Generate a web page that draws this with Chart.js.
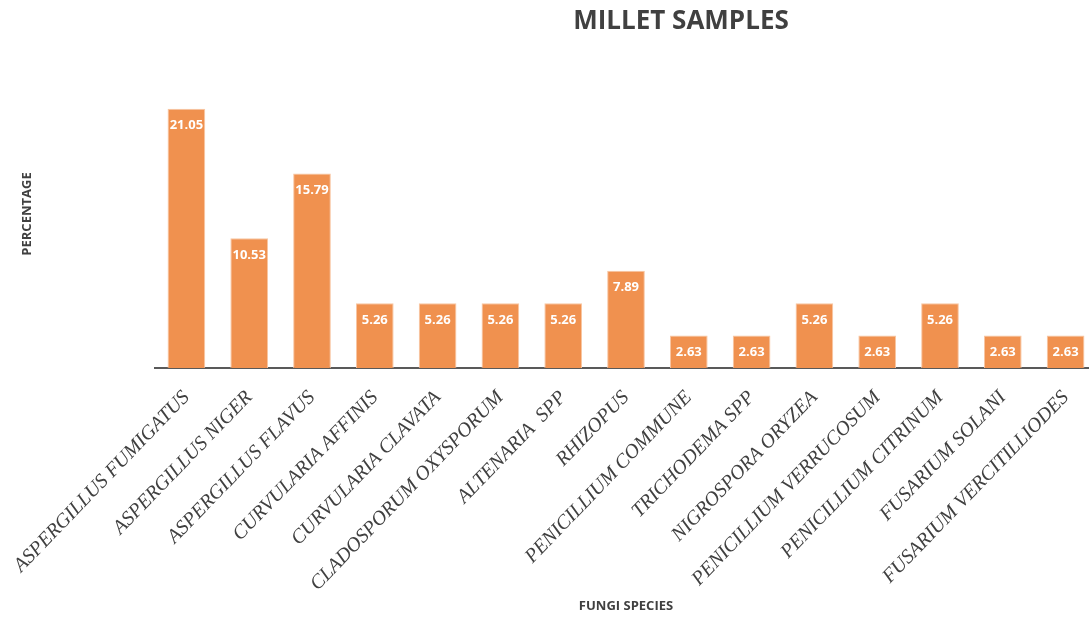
<!DOCTYPE html>
<html>
<head>
<meta charset="utf-8">
<script src="https://cdn.jsdelivr.net/npm/chart.js@4"></script>
<style>
  html, body { margin: 0; padding: 0; background: #fff; overflow: hidden; }
  #wrap { width: 1100px; height: 618px; }
</style>
</head>
<body>
<div id="wrap"><canvas id="chart" width="1100" height="618"></canvas></div>
<script>
const species = [
  'ASPERGILLUS FUMIGATUS', 'ASPERGILLUS NIGER', 'ASPERGILLUS FLAVUS',
  'CURVULARIA AFFINIS', 'CURVULARIA CLAVATA', 'CLADOSPORUM OXYSPORUM',
  'ALTENARIA  SPP', 'RHIZOPUS', 'PENICILLIUM COMMUNE', 'TRICHODEMA SPP',
  'NIGROSPORA ORYZEA', 'PENICILLIUM VERRUCOSUM', 'PENICILLIUM CITRINUM',
  'FUSARIUM SOLANI', 'FUSARIUM VERCITILLIODES'
];
const percentages = [21.05, 10.53, 15.79, 5.26, 5.26, 5.26, 5.26, 7.89, 2.63, 2.63, 5.26, 2.63, 5.26, 2.63, 2.63];

const chartTitle = 'MILLET SAMPLES';
const textGrey = '#404040';

// title sits off-centre, so draw it by hand
const titlePlugin = {
  id: 'topTitle',
  afterDraw(chart) {
    const ctx = chart.ctx;
    ctx.save();
    ctx.font = 'bold 26px "Open Sans"';
    ctx.fillStyle = textGrey;
    ctx.textAlign = 'center';
    ctx.textBaseline = 'middle';
    ctx.fillText(chartTitle, 681, 22);
    ctx.restore();
  }
};

// white value labels just inside the top of each bar
const valueLabels = {
  id: 'valueLabels',
  afterDatasetsDraw(chart) {
    const ctx = chart.ctx;
    const meta = chart.getDatasetMeta(0);
    ctx.save();
    ctx.font = 'bold 13px "Open Sans"';
    ctx.fillStyle = '#ffffff';
    ctx.textAlign = 'center';
    ctx.textBaseline = 'middle';
    meta.data.forEach((bar, i) => {
      ctx.fillText(percentages[i].toFixed(2), bar.x, bar.y + 17);
    });
    ctx.restore();
  }
};

new Chart(document.getElementById('chart'), {
  type: 'bar',
  data: {
    labels: species,
    datasets: [{
      data: percentages,
      backgroundColor: '#F0914F',
      borderColor: '#F8C6A2',
      borderWidth: 1,
      categoryPercentage: 1,
      barPercentage: 0.6
    }]
  },
  options: {
    responsive: false,
    animation: false,
    layout: { padding: { top: 60, right: 3, bottom: 0, left: 0 } },
    plugins: { legend: { display: false }, tooltip: { enabled: false }, title: { display: false } },
    scales: {
      x: {
        grid: { display: false, drawTicks: false },
        border: { display: true, color: '#595959', width: 2 },
        ticks: {
          autoSkip: false,
          minRotation: 46,
          maxRotation: 46,
          padding: 18,
          color: textGrey,
          font: { family: '"Liberation Serif"', style: 'italic', size: 20 }
        },
        title: {
          display: true,
          text: 'FUNGI SPECIES',
          color: textGrey,
          font: { family: '"Open Sans"', weight: 'bold', size: 13 },
          padding: { top: 0, bottom: 4 }
        },
        afterFit(scale) {
          // fixed axis band; rotated labels may spill into the left margin
          scale.height = 250;
          scale.paddingLeft = 0;
          scale.paddingRight = 0;
        }
      },
      y: {
        min: 0,
        max: 25,
        grid: { display: false, drawTicks: false },
        border: { display: false },
        ticks: { display: false },
        title: {
          display: true,
          text: 'PERCENTAGE',
          color: textGrey,
          font: { family: '"Open Sans"', weight: 'bold', size: 13 },
          padding: { top: 19, bottom: 0 }
        },
        afterFit(scale) { scale.width = 155; }
      }
    }
  },
  plugins: [titlePlugin, valueLabels]
});
</script>
</body>
</html>
